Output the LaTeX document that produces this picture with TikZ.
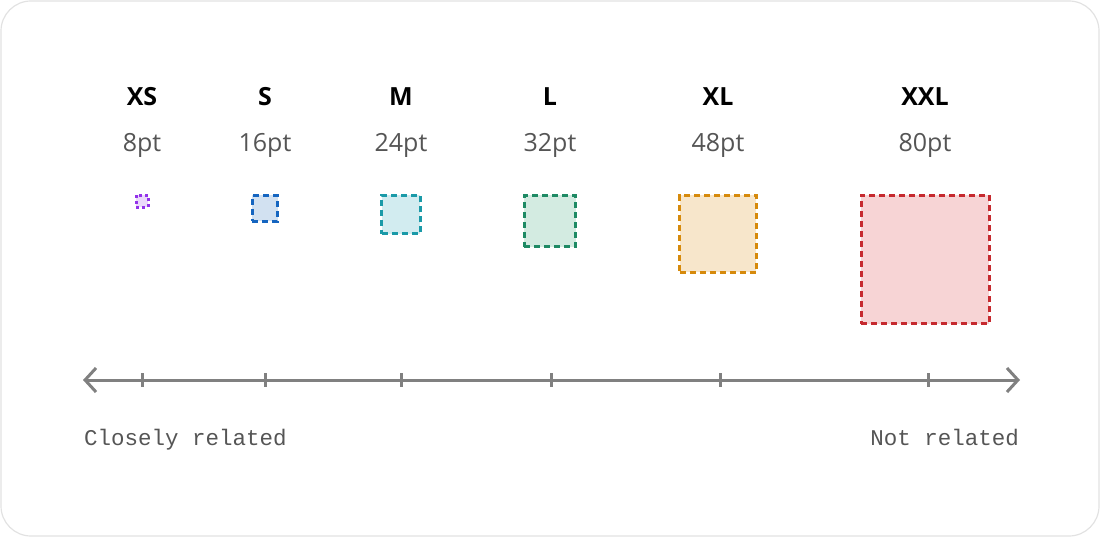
\documentclass[tikz,border=0pt]{standalone}
\usepackage{fontspec}
\setmainfont{Open Sans}
\setmonofont{Liberation Mono}
\usetikzlibrary{arrows.meta}
\definecolor{axisgray}{HTML}{808080}
\definecolor{valgray}{HTML}{555555}
\definecolor{frame}{HTML}{E2E2E2}
\definecolor{cxs}{HTML}{9333EA}\definecolor{fxs}{HTML}{EBD9FB}
\definecolor{cs}{HTML}{1565C0}\definecolor{fs}{HTML}{D2E1F1}
\definecolor{cm}{HTML}{1A9AA8}\definecolor{fm}{HTML}{D2ECF0}
\definecolor{cl}{HTML}{1E8A64}\definecolor{fl}{HTML}{D3EBE1}
\definecolor{cxl}{HTML}{D68A0C}\definecolor{fxl}{HTML}{F7E6CB}
\definecolor{cxxl}{HTML}{C62A2F}\definecolor{fxxl}{HTML}{F7D4D5}
\begin{document}
\begin{tikzpicture}[x=1pt,y=-1pt,
  title/.style={anchor=base,font=\fontsize{25}{29}\selectfont\bfseries,text=black,inner sep=0},
  val/.style={anchor=base,font=\fontsize{25}{29}\selectfont,text=valgray,inner sep=0},
  sq/.style={draw=c#1,fill=f#1,line width=3pt,dash pattern=on 6pt off 4pt,inner sep=0,anchor=north},
  mono/.style={anchor=base west,font=\fontsize{22.5}{26}\ttfamily,text=valgray,inner sep=0},
  tick/.style={draw=axisgray,line width=3pt}]
\useasboundingbox (0,0) rectangle (1100,537);
\draw[frame,line width=1.2pt,rounded corners=30pt] (1,1) rectangle (1099,536);
% titles
\node[title] (txs) at (142,106) {XS};
\node[title] (ts) at (265,106) {S};
\node[title] (tm) at (401,106) {M};
\node[title] (tl) at (550,106) {L};
\node[title] (txl) at (718,106) {XL};
\node[title] (txxl) at (925,106) {XXL};
% values
\node[val] (vxs) at (142,152) {8pt};
\node[val] (vs) at (265,152) {16pt};
\node[val] (vm) at (401,152) {24pt};
\node[val] (vl) at (550,152) {32pt};
\node[val] (vxl) at (718,152) {48pt};
\node[val] (vxxl) at (925,152) {80pt};
% squares
\node[sq=xs,minimum size=12pt,dash pattern=on 3pt off 3pt] (sxs) at (142,194) {};
\node[sq=s,minimum size=25.6pt] (ss) at (265,194) {};
\node[sq=m,minimum size=38.4pt] (sm) at (401,194) {};
\node[sq=l,minimum size=51.2pt] (sl) at (550,194) {};
\node[sq=xl,minimum size=76.8pt] (sxl) at (718,194) {};
\node[sq=xxl,minimum size=128pt] (sxxl) at (925,194) {};
% axis
\coordinate (al) at (83,380);
\coordinate (ar) at (1020,380);
\draw[axisgray,line width=3pt,{Straight Barb[length=11pt,width=24pt,line width=3pt]}-{Straight Barb[length=11pt,width=24pt,line width=3pt]}] (al) -- (ar);
\foreach \n/\x in {1/142,2/265,3/401,4/551,5/720,6/928}{
  \coordinate (k\n) at (\x,380);
  \draw[tick] (k\n) ++(0,-7) -- ++(0,14);
}
\node[mono] (cr) at (84,445) {Closely related};
\node[mono,anchor=base east] (nr) at (1019,445) {Not related};
\end{tikzpicture}
\end{document}
